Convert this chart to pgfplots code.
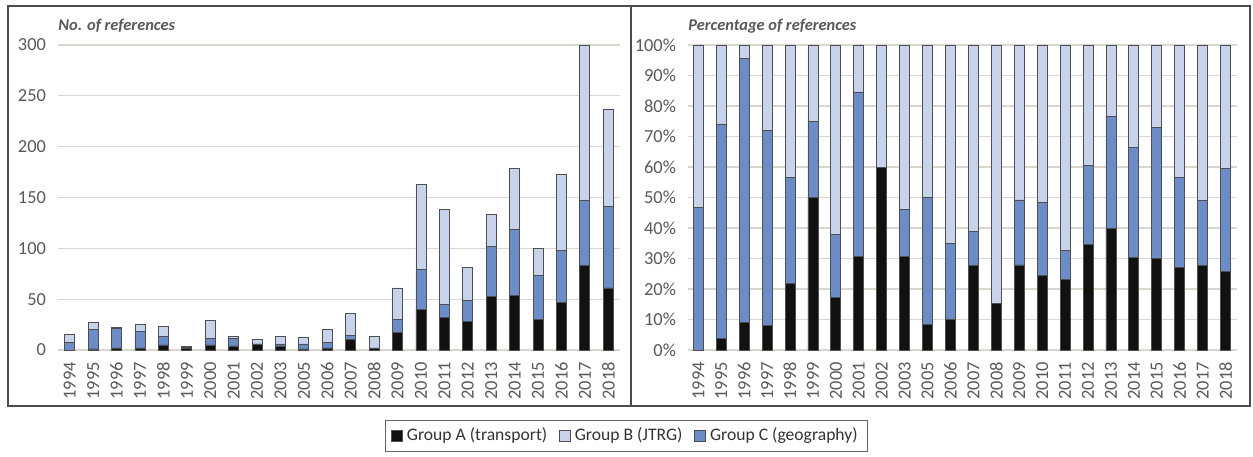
\documentclass[border=0pt]{standalone}
\usepackage{pgfplots}
\usepackage{pgfplotstable}
\pgfplotsset{compat=1.18}
\usepackage{fontspec}
\setmainfont{Carlito}
\definecolor{cA}{HTML}{111111}
\definecolor{cB}{HTML}{C7D3EA}
\definecolor{cC}{HTML}{6B8CC7}
\definecolor{gridc}{HTML}{D9D6CE}
\definecolor{txt}{HTML}{595959}
\definecolor{edge}{HTML}{4F4F4F}

\pgfplotstableread{
x year A C B pA pC pB
0 1994 0 7 8 0 46.7 53.3
1 1995 1 19 7 3.7 70.4 25.9
2 1996 2 19 1 9.1 86.4 4.5
3 1997 2 16 7 8.0 64.0 28.0
4 1998 5 8 10 21.7 34.8 43.5
5 1999 2 1 1 50.0 25.0 25.0
6 2000 5 6 18 17.2 20.7 62.1
7 2001 4 7 2 30.8 53.8 15.4
8 2002 6 0 4 60.0 0 40.0
9 2003 4 2 7 30.8 15.4 53.8
10 2005 1 5 6 8.3 41.7 50.0
11 2006 2 5 13 10.0 25.0 65.0
12 2007 10 4 22 27.8 11.1 61.1
13 2008 2 0 11 15.4 0 84.6
14 2009 17 13 31 27.9 21.3 50.8
15 2010 40 39 84 24.5 23.9 51.6
16 2011 32 13 93 23.2 9.4 67.4
17 2012 28 21 32 34.6 25.9 39.5
18 2013 53 49 31 39.8 36.8 23.4
19 2014 54 65 60 30.2 36.3 33.5
20 2015 30 43 27 30.0 43.0 27.0
21 2016 47 51 75 27.2 29.5 43.3
22 2017 83 64 153 27.7 21.3 51.0
23 2018 61 80 96 25.7 33.8 40.5
}\data

\pgfplotsset{
  sqlegend/.style={legend image code/.code={\draw[##1] (0pt,-2.7pt) rectangle (5.4pt,2.7pt);}},
  common/.style={
    scale only axis,
    ybar stacked,
    bar width=5pt,
    ymin=0,
    xtick=data,
    xticklabels from table={\data}{year},
    axis line style={draw=none},
    tick style={draw=none},
    major tick length=0pt,
    ymajorgrids,
    grid style={gridc, line width=0.6pt},
    /pgf/number format/assume math mode=true,
    ticklabel style={text=txt},
    yticklabel style={font=\fontsize{9.2}{10}\selectfont, xshift=-2.5pt},
    xticklabel style={yshift=-2.5pt, rotate=90, anchor=east, font=\fontsize{9.2}{10}\selectfont},
    title style={at={(0,1)}, anchor=base west, yshift=1.5pt, font=\fontsize{8.2}{9}\selectfont\bfseries\itshape, text=txt, inner sep=0pt},
    every axis plot/.append style={draw=edge, line width=0.4pt},
  },
}

\begin{document}
\begin{tikzpicture}
\useasboundingbox (0,0) rectangle (626.5pt,228pt);
\fill[white] (0,0) rectangle (626.5pt,228pt);
\draw[black!70, line width=0.6pt] (4pt,25pt) rectangle (625pt,225pt);
\draw[black!70, line width=0.6pt] (315.5pt,25pt) -- (315.5pt,225pt);

\begin{axis}[common,
  at={(29pt,53pt)}, anchor=south west,
  width=281pt, height=152.5pt,
  xmin=-0.5, xmax=23.5,
  ymax=300, ytick={0,50,...,300},
  title={No. of references},
]
\addplot[fill=cA] table[x=x, y=A] {\data};
\addplot[fill=cC] table[x=x, y=C] {\data};
\addplot[fill=cB] table[x=x, y=B] {\data};
\end{axis}

\begin{axis}[common,
  at={(344pt,53pt)}, anchor=south west,
  width=274.5pt, height=152.5pt,
  xmin=-0.45, xmax=23.5,
  ymax=100, ytick={0,10,...,100},
  yticklabel={\pgfmathprintnumber{\tick}\%},
  title={Percentage of references},
  legend style={at={(-0.112,-0.282)}, anchor=center, legend columns=3,
    draw=black!60, line width=0.5pt, font=\fontsize{8.8}{10}\selectfont, text=black!80,
    inner xsep=3pt, inner ysep=2pt,
    /tikz/every even column/.append style={column sep=4pt}},
  legend cell align=left,
]
\addlegendimage{sqlegend, fill=cA, draw=edge}
\addlegendentry{Group A (transport)}
\addlegendimage{sqlegend, fill=cB, draw=edge}
\addlegendentry{Group B (JTRG)}
\addlegendimage{sqlegend, fill=cC, draw=edge}
\addlegendentry{Group C (geography)}
\addplot[fill=cA] table[x=x, y=pA] {\data};
\addplot[fill=cC] table[x=x, y=pC] {\data};
\addplot[fill=cB] table[x=x, y=pB] {\data};
\end{axis}
\end{tikzpicture}
\end{document}
